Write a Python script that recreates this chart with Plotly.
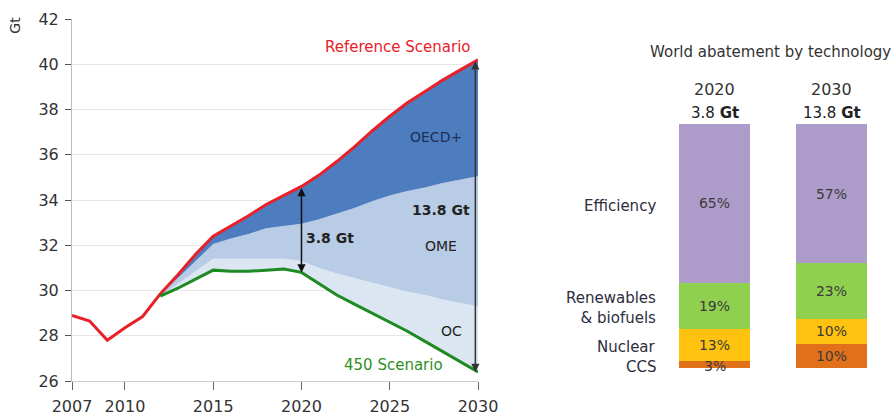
import plotly.graph_objects as go

# ---------------- data ----------------
years_hist = [2007, 2008, 2009, 2010, 2011]
ref_hist = [28.9, 28.65, 27.8, 28.35, 28.85]

years = list(range(2012, 2031))
# Reference Scenario emissions (Gt CO2)
reference = [29.85, 30.7, 31.6, 32.4, 32.85, 33.3, 33.8, 34.2, 34.6, 35.1,
             35.7, 36.35, 37.05, 37.7, 38.3, 38.8, 39.3, 39.75, 40.2]
# 450 Scenario emissions (Gt CO2)
scen450 = [29.75, 30.1, 30.5, 30.9, 30.85, 30.85, 30.9, 30.95, 30.8, 30.3,
           29.8, 29.4, 29.0, 28.6, 28.2, 27.75, 27.3, 26.85, 26.4]
# abatement by region (Gt); OECD+ is the remainder up to the Reference Scenario
abate_oc = [0.0, 0.2, 0.35, 0.5, 0.55, 0.55, 0.5, 0.45, 0.5, 0.7,
            0.95, 1.15, 1.35, 1.55, 1.75, 2.05, 2.3, 2.6, 2.9]
abate_ome = [0.05, 0.25, 0.45, 0.65, 0.9, 1.1, 1.35, 1.45, 1.65, 2.15,
             2.65, 3.1, 3.6, 4.05, 4.45, 4.75, 5.15, 5.45, 5.75]

x_ticks = [2007, 2010, 2015, 2020, 2025, 2030]
y_ticks = [26, 28, 30, 32, 34, 36, 38, 40, 42]

# World abatement by technology (shares, %)
bar_years = ["2020", "2030"]
bar_totals = ["3.8", "13.8"]
technologies = ["CCS", "Nuclear", "Renewables<br>& biofuels", "Efficiency"]
share_2020 = [3, 13, 19, 65]
share_2030 = [10, 10, 23, 57]
tech_colors = ["#e0701a", "#ffc20e", "#8fd14f", "#ad9cc9"]

FONT = "DejaVu Sans"
TXT = "#333333"

# ---------------- derived boundaries ----------------
b_oc = [s + a for s, a in zip(scen450, abate_oc)]
b_ome = [b + a for b, a in zip(b_oc, abate_ome)]

fig = go.Figure()

# stacked wedges: 450 -> OC -> OME -> OECD+ (up to reference)
fig.add_trace(go.Scatter(x=years, y=scen450, mode="lines",
                         line=dict(width=0), hoverinfo="skip", showlegend=False))
fig.add_trace(go.Scatter(x=years, y=b_oc, mode="lines", fill="tonexty",
                         fillcolor="#dce6f3", line=dict(width=0),
                         hoverinfo="skip", showlegend=False))
fig.add_trace(go.Scatter(x=years, y=b_ome, mode="lines", fill="tonexty",
                         fillcolor="#b9cce6", line=dict(width=0),
                         hoverinfo="skip", showlegend=False))
fig.add_trace(go.Scatter(x=years, y=reference, mode="lines", fill="tonexty",
                         fillcolor="#4d7dbe", line=dict(width=0),
                         hoverinfo="skip", showlegend=False))

# scenario lines
fig.add_trace(go.Scatter(x=years_hist + years, y=ref_hist + reference, mode="lines",
                         line=dict(color="#e8202a", width=3), showlegend=False))
fig.add_trace(go.Scatter(x=years, y=scen450, mode="lines",
                         line=dict(color="#1e8a22", width=3), showlegend=False))

ann = []


def note(text, x, y, color, size=13, **kw):
    ann.append(dict(text=text, x=x, y=y, xref=kw.pop("xref", "x"),
                    yref=kw.pop("yref", "y"), showarrow=False,
                    xanchor=kw.pop("xanchor", "center"),
                    yanchor=kw.pop("yanchor", "middle"),
                    font=dict(family=FONT, size=size, color=color), **kw))


# right panel: stacked shares (thin bottom segment labelled on top of the stack)
for i, tech in enumerate(technologies):
    vals = [share_2020[i], share_2030[i]]
    labels = [f"{v}%" for v in vals]
    thin = [v < 5 for v in vals]
    fig.add_trace(go.Bar(
        x=[0, 1], y=vals, xaxis="x2", yaxis="y2", width=0.615,
        marker=dict(color=tech_colors[i], line=dict(width=0)),
        text=["" if t else s for s, t in zip(labels, thin)],
        textposition="inside",
        insidetextanchor="middle", constraintext="none", cliponaxis=False,
        textfont=dict(family=FONT, size=14, color="#3a3a3a"),
        name=tech.replace("<br>", " "), showlegend=False))
    base = [sum(share_2020[:i]), sum(share_2030[:i])]
    for j, (v, s, t) in enumerate(zip(vals, labels, thin)):
        if t:
            note(s, j, base[j] + v / 2 - 0.6, "#3a3a3a", size=14,
                 xref="x2", yref="y2")


note("Reference Scenario", 2025.45, 40.75, "#e8202a", size=15)
note("450 Scenario", 2025.2, 26.7, "#2f8f1f", size=15)
note("OECD+", 2027.6, 36.8, "#1f2f55", size=14)
note("<b>13.8 Gt</b>", 2027.9, 33.55, "#222222", size=14)
note("OME", 2027.9, 31.95, "#222222", size=14)
note("<b>3.8 Gt</b>", 2020.15, 32.3, "#222222", size=14, xanchor="left")
note("OC", 2028.5, 28.2, "#222222", size=14)
note("Gt", 0.0165, 0.94, TXT, size=14, xref="paper", yref="paper", textangle=-90)

# double-headed arrows marking total abatement
i20 = years.index(2020)
i30 = years.index(2030)
for xa, top, bot, col in [(2020, reference[i20], scen450[i20], "#111111"),
                          (2029.85, reference[i30], scen450[i30], "#333333")]:
    ann.append(dict(x=xa, y=bot, ax=xa, ay=top, xref="x", yref="y",
                    axref="x", ayref="y", showarrow=True, arrowhead=2,
                    arrowside="end+start", arrowsize=1.1, arrowwidth=1.5,
                    arrowcolor=col, text=""))

# right panel texts
note("World abatement by technology", 0.8594, 0.8747, TXT, size=15,
     xref="paper", yref="paper")
for j, (yr, tot) in enumerate(zip(bar_years, bar_totals)):
    note(yr, j, 0.7855, TXT, size=16, xref="x2", yref="paper")
    note(f"{tot} <b>Gt</b>", j, 0.7277, "#222222", size=15, xref="x2", yref="paper")

cum = 0
for i, tech in enumerate(technologies):
    mid = cum + share_2020[i] / 2
    cum += share_2020[i]
    note(tech, -0.48, mid - 1, "#2d2d3d", size=15, xref="x2", yref="y2",
         xanchor="right", align="right")

fig.update_layout(
    width=896, height=415,
    margin=dict(l=0, r=0, t=0, b=0, autoexpand=False),
    paper_bgcolor="white", plot_bgcolor="white",
    barmode="stack", showlegend=False,
    font=dict(family=FONT, color=TXT),
    xaxis=dict(domain=[72 / 896, 478 / 896], range=[2007, 2030], automargin=False,
               tickvals=x_ticks, ticks="outside", ticklen=8, tickcolor="#666666",
               ticklabelstandoff=3,
               showgrid=False, zeroline=False, showline=True, linecolor="#cccccc",
               tickfont=dict(family=FONT, size=16, color=TXT)),
    yaxis=dict(domain=[34 / 415, 396 / 415], range=[26, 42], automargin=False,
               tickvals=y_ticks, ticks="outside", ticklen=6, tickcolor="#555555",
               ticklabelstandoff=3,
               showgrid=True, gridcolor="#e6e6e6", gridwidth=1,
               zeroline=False, showline=True, linecolor="#bbbbbb",
               tickfont=dict(family=FONT, size=16, color=TXT)),
    xaxis2=dict(domain=[560 / 896, 1.0], range=[-1.3205, 1.5513],
                anchor="y2", visible=False, automargin=False),
    yaxis2=dict(domain=[47 / 415, 291 / 415], range=[0, 100],
                anchor="x2", visible=False, automargin=False),
    uniformtext=dict(mode="show", minsize=13),
    annotations=ann,
)

fig.write_html("out.html")
